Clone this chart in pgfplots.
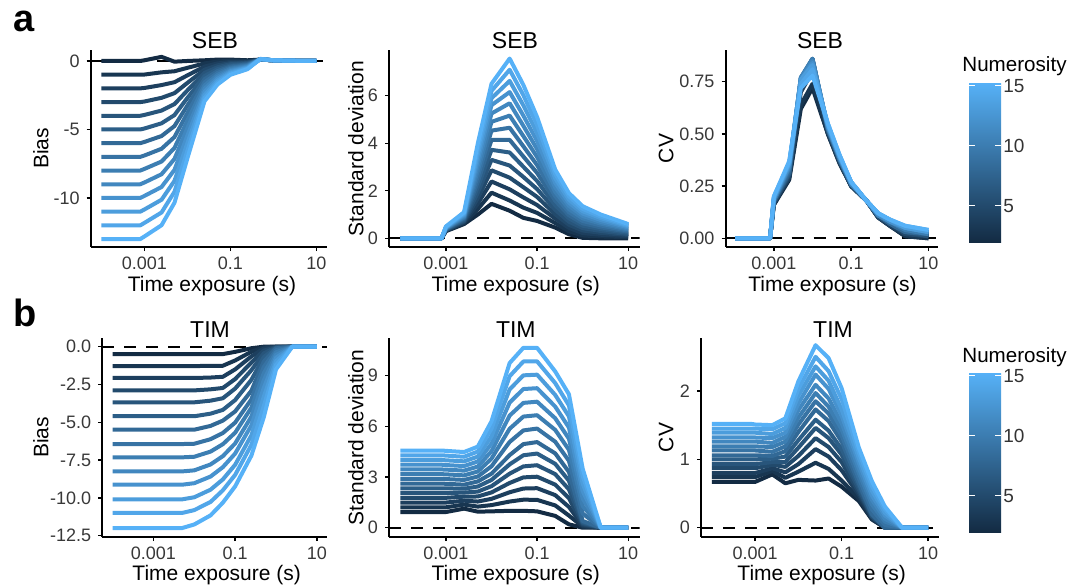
\documentclass[border=0pt]{standalone}
\usepackage{pgfplots}
\pgfplotsset{compat=1.18}
\usepackage{pgfplotstable}
\usepackage{fontspec}
\setmainfont{Liberation Sans}

\definecolor{db}{HTML}{132B43}
\definecolor{lb}{HTML}{56B1F7}
\colorlet{c2}{lb!0!db}\colorlet{c3}{lb!8!db}\colorlet{c4}{lb!15!db}
\colorlet{c5}{lb!23!db}\colorlet{c6}{lb!31!db}\colorlet{c7}{lb!38!db}
\colorlet{c8}{lb!46!db}\colorlet{c9}{lb!54!db}\colorlet{c10}{lb!62!db}
\colorlet{c11}{lb!69!db}\colorlet{c12}{lb!77!db}\colorlet{c13}{lb!85!db}
\colorlet{c14}{lb!92!db}\colorlet{c15}{lb!100!db}

\newcommand\fs[1]{\fontsize{#1}{#1}\selectfont}

% SEB bias
\pgfplotstableread{
t n2 n3 n4 n5 n6 n7 n8 n9 n10 n11 n12 n13 n14 n15
0.0001 0 -1 -2 -3 -4 -5 -6 -7 -8 -9 -10 -11 -12 -13
0.0008 0 -1 -2 -3 -4 -5 -6 -7 -8 -9 -10 -11 -12 -13
0.001 0.05 -0.99 -1.97 -2.96 -3.94 -4.93 -5.91 -6.90 -7.88 -8.87 -9.85 -10.84 -11.82 -12.81
0.0025 0.3 -0.83 -1.76 -2.69 -3.62 -4.55 -5.48 -6.41 -7.34 -8.27 -9.20 -10.13 -11.06 -11.99
0.005 -0.05 -0.75 -1.55 -2.35 -3.15 -3.95 -4.75 -5.55 -6.35 -7.15 -7.95 -8.75 -9.55 -10.35
0.01 0 -0.5 -1.05 -1.6 -2.15 -2.7 -3.25 -3.8 -4.35 -4.9 -5.45 -6.0 -6.55 -7.1
0.025 0.05 -0.18 -0.41 -0.64 -0.87 -1.10 -1.33 -1.56 -1.79 -2.02 -2.25 -2.48 -2.71 -2.94
0.05 0.1 -0.04 -0.18 -0.32 -0.46 -0.60 -0.74 -0.88 -1.02 -1.16 -1.30 -1.44 -1.58 -1.72
0.1 0.1 0.02 -0.07 -0.16 -0.24 -0.33 -0.41 -0.50 -0.58 -0.67 -0.75 -0.84 -0.92 -1.01
0.25 0.05 0 -0.05 -0.1 -0.15 -0.2 -0.25 -0.3 -0.35 -0.4 -0.45 -0.5 -0.55 -0.6
0.5 0.1 0.1 0.1 0.1 0.11 0.11 0.12 0.12 0.13 0.13 0.14 0.14 0.15 0.15
1 0.05 0.05 0.05 0.05 0.05 0.05 0.05 0.05 0.05 0.05 0.05 0.05 0.05 0.05
2.5 0.02 0.02 0.02 0.02 0.02 0.02 0.02 0.02 0.02 0.02 0.02 0.02 0.02 0.02
10 0 0 0 0 0 0 0 0 0 0 0 0 0 0
}\sebbias

% SEB standard deviation
\pgfplotstableread{
t n2 n3 n4 n5 n6 n7 n8 n9 n10 n11 n12 n13 n14 n15
0.0001 0 0 0 0 0 0 0 0 0 0 0 0 0 0
0.0008 0 0 0 0 0 0 0 0 0 0 0 0 0 0
0.001 .30 .32 .33 .35 .36 .38 .39 .41 .42 .44 .45 .47 .48 .50
0.0025 .60 .64 .68 .71 .75 .79 .83 .87 .90 .94 .98 1.02 1.06 1.10
0.005 1.0 1.23 1.46 1.69 1.92 2.15 2.38 2.61 2.84 3.07 3.30 3.53 3.76 3.99
0.01 1.45 1.92 2.39 2.86 3.30 3.72 4.14 4.53 4.90 5.25 5.60 5.89 6.20 6.50
0.025 1.16 1.59 2.06 2.55 3.06 3.61 4.14 4.65 5.16 5.68 6.15 6.62 7.09 7.56
0.05 .86 1.29 1.72 2.15 2.58 3.01 3.44 3.87 4.30 4.73 5.16 5.59 6.02 6.45
0.1 .73 1.07 1.40 1.74 2.07 2.41 2.75 3.08 3.42 3.75 4.09 4.43 4.76 5.10
0.25 .45 .64 .83 1.01 1.20 1.39 1.58 1.77 1.95 2.14 2.33 2.52 2.71 2.89
0.5 .17 .30 .44 .57 .70 .84 .97 1.10 1.23 1.37 1.50 1.63 1.77 1.90
1 .02 .12 .22 .33 .43 .53 .63 .73 .84 .94 1.04 1.14 1.24 1.35
2.5 0 .08 .15 .23 .31 .39 .46 .54 .62 .69 .77 .85 .92 1.0
10 0 .05 .09 .14 .18 .23 .28 .32 .37 .41 .46 .51 .55 .6
}\sebsd

% SEB CV
\pgfplotstableread{
t n2 n3 n4 n5 n6 n7 n8 n9 n10 n11 n12 n13 n14 n15
0.0001 0 0 0 0 0 0 0 0 0 0 0 0 0 0
0.0008 0 0 0 0 0 0 0 0 0 0 0 0 0 0
0.001 .16 .16 .17 .17 .17 .18 .18 .18 .18 .19 .19 .19 .20 .20
0.0025 .28 .29 .29 .30 .31 .31 .32 .33 .34 .34 .35 .36 .36 .37
0.005 .62 .64 .70 .73 .75 .76 .76 .77 .77 .77 .76 .76 .74 .72
0.01 .72 .74 .80 .83 .85 .86 .86 .86 .86 .85 .84 .83 .81 .78
0.025 .50 .50 .51 .51 .52 .52 .52 .53 .53 .53 .54 .54 .55 .55
0.05 .36 .36 .37 .37 .37 .38 .38 .38 .38 .39 .39 .39 .40 .40
0.1 .25 .25 .25 .25 .26 .26 .26 .26 .26 .26 .27 .27 .27 .27
0.25 .18 .18 .18 .18 .18 .18 .18 .18 .18 .18 .18 .18 .18 .18
0.5 .10 .10 .10 .10 .11 .11 .11 .11 .11 .11 .12 .12 .12 .12
1 .06 .06 .06 .07 .07 .07 .07 .08 .08 .08 .08 .09 .09 .09
2.5 .01 .01 .02 .02 .03 .03 .03 .04 .04 .05 .05 .05 .06 .06
10 0 0 .01 .01 .01 .02 .02 .02 .02 .03 .03 .03 .04 .04
}\sebcv

% TIM bias
\pgfplotstableread{
t n2 n3 n4 n5 n6 n7 n8 n9 n10 n11 n12 n13 n14 n15
0.0001 -0.49 -1.28 -2.07 -2.89 -3.68 -4.6 -5.49 -6.44 -7.32 -8.25 -9.13 -10.1 -11.0 -12.0
0.0008 -0.49 -1.28 -2.07 -2.89 -3.68 -4.6 -5.49 -6.44 -7.32 -8.25 -9.13 -10.1 -11.0 -12.0
0.001 -0.49 -1.28 -2.07 -2.89 -3.68 -4.6 -5.49 -6.44 -7.32 -8.25 -9.13 -10.1 -11.0 -12.0
0.0025 -0.49 -1.28 -2.07 -2.89 -3.68 -4.6 -5.49 -6.44 -7.32 -8.25 -9.13 -10.1 -11.0 -12.0
0.005 -0.49 -1.28 -2.07 -2.89 -3.68 -4.6 -5.49 -6.44 -7.32 -8.25 -9.13 -10.1 -11.0 -12.0
0.01 -0.49 -1.28 -2.07 -2.89 -3.68 -4.6 -5.49 -6.42 -7.28 -8.18 -9.03 -9.96 -10.81 -11.76
0.025 -0.49 -1.27 -2.04 -2.82 -3.57 -4.43 -5.24 -6.12 -6.94 -7.79 -8.59 -9.46 -10.27 -11.16
0.05 -0.49 -1.26 -1.99 -2.73 -3.41 -4.18 -4.89 -5.71 -6.45 -7.24 -7.97 -8.78 -9.50 -10.32
0.1 -0.34 -0.91 -1.50 -2.14 -2.77 -3.53 -4.28 -5.02 -5.69 -6.40 -7.07 -7.81 -8.48 -9.24
0.25 -0.10 -0.33 -0.64 -1.05 -1.55 -2.19 -2.91 -3.48 -4.03 -4.62 -5.20 -5.86 -6.49 -7.20
0.5 0 -0.04 -0.12 -0.26 -0.44 -0.69 -0.99 -1.35 -1.76 -2.23 -2.74 -3.33 -3.96 -4.68
1 0 0 -0.01 -0.03 -0.05 -0.08 -0.11 -0.23 -0.37 -0.54 -0.73 -0.96 -1.21 -1.50
2.5 0 0 0 0 0 0 0 0 0 0 0 0 0 0
10 0 0 0 0 0 0 0 0 0 0 0 0 0 0
}\timbias

% TIM standard deviation
\pgfplotstableread{
t n2 n3 n4 n5 n6 n7 n8 n9 n10 n11 n12 n13 n14 n15
0.0001 .93 1.21 1.49 1.77 2.05 2.33 2.61 2.89 3.17 3.45 3.73 4.01 4.29 4.57
0.0008 .93 1.21 1.49 1.77 2.05 2.33 2.61 2.89 3.17 3.45 3.73 4.01 4.29 4.57
0.001 .93 1.21 1.49 1.77 2.05 2.33 2.60 2.88 3.16 3.44 3.71 3.99 4.27 4.55
0.0025 1.13 1.37 1.60 1.84 2.08 2.31 2.55 2.83 3.10 3.38 3.65 3.93 4.20 4.48
0.005 .95 1.25 1.55 1.85 2.14 2.44 2.74 3.03 3.33 3.62 3.92 4.21 4.51 4.80
0.01 .97 1.34 1.71 2.09 2.46 2.83 3.20 3.64 4.09 4.53 4.97 5.41 5.86 6.30
0.025 1.0 1.55 2.1 2.65 3.2 3.75 4.3 5.08 5.86 6.64 7.41 8.19 8.97 9.75
0.05 1.0 1.66 2.32 2.98 3.63 4.29 4.95 5.76 6.58 7.39 8.21 9.02 9.84 10.65
0.1 .97 1.65 2.34 3.02 3.70 4.39 5.07 5.87 6.66 7.46 8.26 9.06 9.85 10.65
0.25 .70 1.32 1.93 2.55 3.17 3.78 4.40 5.09 5.79 6.48 7.17 7.86 8.56 9.25
0.5 .20 .72 1.23 1.75 2.27 2.78 3.30 3.96 4.61 5.27 5.93 6.59 7.24 7.90
1 0 .07 .13 .20 .27 .33 .40 .84 1.29 1.73 2.17 2.61 3.06 3.50
2.5 0 0 0 0 0 0 0 0 0 0 0 0 0 0
10 0 0 0 0 0 0 0 0 0 0 0 0 0 0
}\timsd

% TIM CV
\pgfplotstableread{
t n2 n3 n4 n5 n6 n7 n8 n9 n10 n11 n12 n13 n14 n15
0.0001 .67 .74 .80 .87 .93 1.00 1.06 1.13 1.19 1.26 1.32 1.39 1.45 1.52
0.0008 .67 .74 .80 .87 .93 1.00 1.06 1.13 1.19 1.26 1.32 1.39 1.45 1.52
0.001 .67 .74 .80 .87 .93 1.00 1.06 1.13 1.19 1.26 1.32 1.39 1.45 1.51
0.0025 .78 .83 .87 .92 .96 1.01 1.05 1.11 1.18 1.24 1.31 1.37 1.44 1.50
0.005 .65 .73 .81 .89 .96 1.04 1.12 1.19 1.26 1.33 1.39 1.46 1.53 1.60
0.01 .70 .82 .93 1.05 1.17 1.28 1.40 1.51 1.61 1.72 1.82 1.93 2.03 2.14
0.025 .69 .95 1.15 1.31 1.46 1.58 1.73 1.85 1.97 2.09 2.24 2.36 2.50 2.67
0.05 .72 .86 1.04 1.18 1.31 1.42 1.56 1.67 1.77 1.89 2.03 2.15 2.29 2.48
0.1 .60 .69 .84 .96 1.07 1.15 1.26 1.35 1.44 1.53 1.64 1.73 1.88 2.04
0.25 .39 .43 .48 .52 .56 .61 .65 .72 .80 .87 .95 1.02 1.10 1.17
0.5 .12 .13 .15 .16 .17 .19 .20 .27 .34 .41 .47 .54 .61 .68
1 0 0 0 0 0 0 0 .04 .09 .13 .18 .22 .27 .31
2.5 0 0 0 0 0 0 0 0 0 0 0 0 0 0
10 0 0 0 0 0 0 0 0 0 0 0 0 0 0
}\timcv

\pgfplotsset{
  /pgfplots/numpanel/.style={
    scale only axis, xmin=5.6234e-5, xmax=17.783,
    axis x line*=bottom, axis y line*=left,
    axis line style={line width=1pt, -},
    tick align=outside, major tick length=2pt,
    tick style={black, line width=0.7pt},
    xminorticks=false, yminorticks=false,
    xtick={0.001,0.1,10}, xticklabels={0.001,0.1,10},
    ticklabel style={font=\fs{9}, text=black!78},
    xticklabel style={yshift=0.6pt},
  },
  /pgfplots/numcurve/.style={line width=2pt, line join=round},
  /pgfplots/zeroline/.style={black, line width=1pt, dash pattern=on 6pt off 5pt},
}

\begin{document}
\begin{tikzpicture}
\begin{scope}[x=0.5pt, y=-0.5pt]
\useasboundingbox (0,0) rectangle (1081,586);
\end{scope}

% row a (positions in pt: 1 px of the reference = 0.5pt, y downwards)
\begin{semilogxaxis}[numpanel, at={(45.35pt,-123.5pt)}, anchor=south west, width=118.2pt, height=98.5pt,
  ymin=-13.58, ymax=0.80, ytick={-10,-5,0}, yticklabels={-10,-5,0}]
\addplot[zeroline] coordinates {(5.6234e-5,0) (17.783,0)};
\pgfplotsinvokeforeach{2,...,15}{\addplot[numcurve, c#1] table[x=t, y=n#1]{\sebbias};}
\end{semilogxaxis}

\begin{semilogxaxis}[numpanel, at={(194.5pt,-123.5pt)}, anchor=south west, width=125.3pt, height=98.5pt,
  ymin=-0.366, ymax=7.92, ytick={0,2,4,6}, yticklabels={0,2,4,6}]
\addplot[zeroline] coordinates {(5.6234e-5,0) (17.783,0)};
\pgfplotsinvokeforeach{2,...,15}{\addplot[numcurve, c#1] table[x=t, y=n#1]{\sebsd};}
\end{semilogxaxis}

\begin{semilogxaxis}[numpanel, at={(362.75pt,-123.5pt)}, anchor=south west, width=106.3pt, height=98.5pt,
  ymin=-0.0417, ymax=0.902, ytick={0,0.25,0.5,0.75}, yticklabels={0.00,0.25,0.50,0.75}]
\addplot[zeroline] coordinates {(5.6234e-5,0) (17.783,0)};
\pgfplotsinvokeforeach{2,...,15}{\addplot[numcurve, c#1] table[x=t, y=n#1]{\sebcv};}
\end{semilogxaxis}

% row b
\begin{semilogxaxis}[numpanel, at={(51.15pt,-268.5pt)}, anchor=south west, width=112.4pt, height=99.5pt,
  ymin=-12.59, ymax=0.575, ytick={-12.5,-10,-7.5,-5,-2.5,0},
  yticklabels={-12.5,-10.0,-7.5,-5.0,-2.5,0.0}]
\addplot[zeroline] coordinates {(5.6234e-5,0) (17.783,0)};
\pgfplotsinvokeforeach{2,...,15}{\addplot[numcurve, c#1] table[x=t, y=n#1]{\timbias};}
\end{semilogxaxis}

\begin{semilogxaxis}[numpanel, at={(194.5pt,-268.5pt)}, anchor=south west, width=125.3pt, height=99.5pt,
  ymin=-0.55, ymax=11.23, ytick={0,3,6,9}, yticklabels={0,3,6,9}]
\addplot[zeroline] coordinates {(5.6234e-5,0) (17.783,0)};
\pgfplotsinvokeforeach{2,...,15}{\addplot[numcurve, c#1] table[x=t, y=n#1]{\timsd};}
\end{semilogxaxis}

\begin{semilogxaxis}[numpanel, at={(350.5pt,-268.5pt)}, anchor=south west, width=119pt, height=99.5pt,
  ymin=-0.136, ymax=2.775, ytick={0,1,2}, yticklabels={0,1,2}]
\addplot[zeroline] coordinates {(5.6234e-5,0) (17.783,0)};
\pgfplotsinvokeforeach{2,...,15}{\addplot[numcurve, c#1] table[x=t, y=n#1]{\timcv};}
\end{semilogxaxis}

\begin{scope}[x=0.5pt, y=-0.5pt]
% panel letters
\node[anchor=base west, font=\fs{19}\bfseries, inner sep=0] at (13,31.7) {a};
\node[anchor=base west, font=\fs{19}\bfseries, inner sep=0] at (13,326) {b};

% titles
\foreach \x/\y/\t in {215/48/SEB, 515/48/SEB, 820/48/SEB, 210/337.5/TIM, 515.8/337.5/TIM, 833/337.5/TIM}
  \node[anchor=base, font=\fs{11.5}, inner sep=0] at (\x,\y) {\t};

% axis titles
\foreach \x/\y in {212/291, 515.8/291, 832.5/291, 216.7/580, 515.8/580, 821.7/580}
  \node[anchor=base, font=\fs{10.5}, inner sep=0] at (\x,\y) {Time exposure (s)};
\foreach \x/\y/\t in {48.3/148.5/Bias, 363.3/148.5/Standard deviation, 673.3/148.5/CV,
                      48.3/437.5/Bias, 363.3/437.5/Standard deviation, 673.3/437.5/CV}
  \node[anchor=base, rotate=90, font=\fs{10.5}, inner sep=0] at (\x,\y) {\t};

% colour bars
\foreach \top/\ttl in {0/71.7, 290/362} {
  \node[anchor=base west, font=\fs{10.3}, inner sep=0] at (962,\ttl) {Numerosity};
  \shade[bottom color=db, top color=lb] (969,\top+242) rectangle (1001,\top+83);
  \foreach \v/\lab in {205.7/5, 145.7/10, 85.7/15} {
    \draw[white, line width=0.5pt] (969,\top+\v) -- (975,\top+\v);
    \draw[white, line width=0.5pt] (995,\top+\v) -- (1001,\top+\v);
    \node[anchor=west, font=\fs{9.5}, text=black!80, inner sep=0] at (1003,\top+\v) {\lab};
  }
}
\end{scope}
\end{tikzpicture}
\end{document}
